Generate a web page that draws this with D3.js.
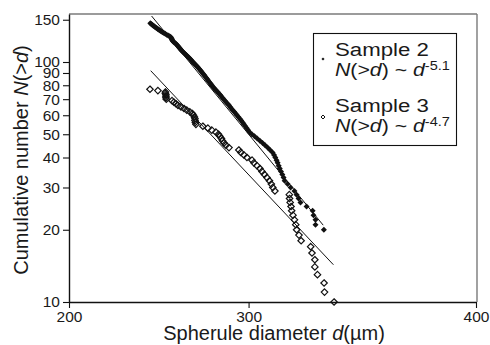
<!DOCTYPE html>
<html>
<head>
<meta charset="utf-8">
<script src="https://cdn.jsdelivr.net/npm/d3@7"></script>
<style>
    body { margin: 0; background: #fff; }
    svg { display: block; font-family: "Liberation Sans", Arial, sans-serif; }
</style>
</head>
<body>
<div id="chart"></div>
<script>
// axis ticks
const xTicks = [200, 300, 400]
const yTicks = [10, 20, 30, 40, 50, 60, 70, 80, 90, 100, 150]

// Sample 2 : cumulative number N(>d) against spherule diameter d (µm)
const s2Count = [145, 144, 143, 142, 141, 140, 139, 138, 137, 136, 135, 134, 133, 132, 131, 130, 129, 128, 127, 126,
    125, 124, 123, 122, 121, 120, 119, 118, 117, 116, 115, 114, 113, 112, 111, 110, 109, 108, 107, 106,
    105, 104, 103, 102, 101, 100, 99, 98, 97, 96, 95, 94, 93, 92, 91, 90, 89, 88, 87, 86,
    85, 84, 83, 82, 81, 80, 79, 78, 77, 76, 75, 74, 73, 72, 71, 70, 69, 68, 67, 66,
    65, 64, 63, 62, 61, 60, 59, 58, 57, 56, 55, 54, 53, 52, 51, 50, 49, 48, 47, 46,
    45, 44, 43, 42, 41, 40, 39, 38, 37, 36, 35, 34, 33, 32, 31, 30, 29, 28, 27, 26,
    25, 24, 23, 22, 21, 20]
const s2Diam = [248.8, 249.3, 249.8, 250.3, 250.9, 251.4, 252.0, 252.6, 253.1, 253.7, 254.3, 254.9, 255.6, 256.3, 257.0, 257.8, 258.6, 259.4, 260.0, 260.3,
    260.5, 260.7, 260.9, 261.2, 261.7, 262.3, 262.8, 263.3, 263.7, 264.1, 264.5, 264.9, 265.3, 265.7, 266.1, 266.6, 267.2, 267.7, 268.3, 268.8,
    269.4, 269.9, 270.4, 270.9, 271.3, 271.8, 272.3, 272.8, 273.4, 273.9, 274.4, 274.9, 275.4, 275.9, 276.3, 276.8, 277.3, 277.8, 278.2, 278.7,
    279.2, 279.7, 280.1, 280.6, 281.1, 281.6, 282.1, 282.7, 283.3, 283.9, 284.6, 285.2, 285.8, 286.4, 287.0, 287.6, 288.3, 288.9, 289.6, 290.3,
    290.9, 291.5, 292.2, 292.9, 293.6, 294.3, 295.0, 295.7, 296.4, 297.1, 297.7, 298.4, 299.1, 299.8, 300.5, 301.6, 302.9, 304.2, 305.5, 306.8,
    308.0, 309.2, 310.4, 311.6, 312.3, 312.9, 313.5, 314.0, 314.5, 315.0, 315.6, 316.2, 316.8, 317.3, 318.7, 320.1, 321.9, 322.9, 323.8, 324.7,
    327.5, 330.3, 330.7, 331.6, 331.6, 335.4]

// Sample 3
const s3Count = [77, 76, 75, 74, 73, 72, 71, 70, 69, 68, 67, 66, 65, 64, 63, 62, 61, 60, 59, 58,
    57, 56, 55, 54, 53, 52, 51, 50, 49, 48, 47, 46, 45, 44, 43, 42, 41, 40, 39, 38,
    37, 36, 35, 34, 33, 32, 31, 30, 29, 28, 27, 26, 25, 24, 23, 22, 21, 20, 19, 18,
    17, 16, 15, 14, 13, 12, 11, 10]
const s3Diam = [248.6, 253.0, 257.1, 257.1, 257.4, 257.4, 257.4, 257.6, 260.7, 261.7, 262.8, 263.9, 265.5, 267.1, 268.6, 270.2, 271.5, 272.1, 272.6, 272.9,
    272.9, 273.1, 273.4, 277.0, 279.6, 281.6, 283.7, 285.0, 285.7, 286.5, 287.0, 287.8, 288.8, 290.3, 295.2, 296.2, 297.7, 299.2, 301.7, 302.6,
    304.1, 305.5, 306.5, 307.7, 308.9, 310.1, 311.0, 311.7, 312.7, 319.5, 319.6, 319.9, 320.3, 320.6, 321.2, 321.9, 322.5, 322.9, 324.0, 325.0,
    329.4, 330.0, 331.3, 331.3, 332.5, 335.5, 335.7, 340.0]

// power-law fits, end points [d, N]
const fit2 = [[249.5, 155.5], [335.1, 20.9]]
const fit3 = [[249.0, 92.0], [339.7, 14.3]]

const width = 490, height = 345
const plotLeft = 69, plotRight = 476, plotTop = 14, plotBottom = 302

const svg = d3.select("#chart").append("svg")
    .attr("width", width)
    .attr("height", height)

const x = d3.scalePow().exponent(1.7).domain([200, 400]).range([plotLeft, plotRight])
const y = d3.scaleLog().domain([10, 10 ** 2.2]).range([plotBottom, plotTop])

const diamond = {
    draw(ctx, size) {
        const r = Math.sqrt(size) / 2
        ctx.moveTo(0, -r)
        ctx.lineTo(r, 0)
        ctx.lineTo(0, r)
        ctx.lineTo(-r, 0)
        ctx.closePath()
    }
}

// frame: top and right are grey
svg.append("line").attr("x1", plotLeft).attr("x2", plotRight + 1).attr("y1", plotTop).attr("y2", plotTop)
    .attr("stroke", "#7a7a7a").attr("stroke-width", 1.6)
svg.append("line").attr("x1", plotRight + 1).attr("x2", plotRight + 1).attr("y1", plotTop).attr("y2", plotBottom)
    .attr("stroke", "#7a7a7a").attr("stroke-width", 1.4)

const xAxis = svg.append("g")
    .attr("transform", `translate(0,${plotBottom})`)
    .call(d3.axisBottom(x).tickValues(xTicks).tickSize(6).tickSizeOuter(0).tickPadding(3).tickFormat(d3.format("d")))
const yAxis = svg.append("g")
    .attr("transform", `translate(${plotLeft},0)`)
    .call(d3.axisLeft(y).tickValues(yTicks).tickSize(6).tickSizeOuter(0).tickPadding(3).tickFormat(d3.format("d")))

for (const ax of [xAxis, yAxis]) {
    ax.select(".domain").attr("stroke", "#111").attr("stroke-width", 1.4)
    ax.selectAll(".tick line").attr("stroke", "#111").attr("stroke-width", 1.1)
    ax.selectAll(".tick text").attr("fill", "#1a1a1a")
        .style("font-family", '"Liberation Sans", Arial, sans-serif').style("font-size", "15.5px")
}

// fit lines
const line = d3.line().x(d => x(d[0])).y(d => y(d[1]))
svg.append("path").datum(fit2).attr("d", line).attr("stroke", "#111").attr("stroke-width", 1).attr("fill", "none")
svg.append("path").datum(fit3).attr("d", line).attr("stroke", "#111").attr("stroke-width", 1).attr("fill", "none")

// sample 3 hollow diamonds
svg.append("g").selectAll("path")
    .data(s3Diam.map((d, i) => [d, s3Count[i]]))
    .join("path")
    .attr("transform", d => `translate(${x(d[0])},${y(d[1])})`)
    .attr("d", d3.symbol(diamond, 42))
    .attr("fill", "none")
    .attr("stroke", "#111")
    .attr("stroke-width", 1.2)

// sample 2 filled diamonds
svg.append("g").selectAll("path")
    .data(s2Diam.map((d, i) => [d, s2Count[i]]))
    .join("path")
    .attr("transform", d => `translate(${x(d[0])},${y(d[1])})`)
    .attr("d", d3.symbol(diamond, 36))
    .attr("fill", "#111")

// axis titles
const yTitle = svg.append("text")
    .attr("transform", "translate(28,160) rotate(-90)")
    .attr("text-anchor", "middle")
    .attr("font-size", 20)
    .attr("fill", "#1a1a1a")
yTitle.append("tspan").text("Cumulative number ")
yTitle.append("tspan").attr("font-style", "italic").text("N")
yTitle.append("tspan").text("(>")
yTitle.append("tspan").attr("font-style", "italic").text("d")
yTitle.append("tspan").text(")")

const xTitle = svg.append("text")
    .attr("x", 274).attr("y", 340)
    .attr("text-anchor", "middle")
    .attr("font-size", 20)
    .attr("fill", "#1a1a1a")
xTitle.append("tspan").text("Spherule diameter ")
xTitle.append("tspan").attr("font-style", "italic").text("d")
xTitle.append("tspan").text("(\u00b5m)")

// legend
const legend = svg.append("g")
legend.append("rect")
    .attr("x", 313.5).attr("y", 33.5).attr("width", 143).attr("height", 112)
    .attr("fill", "#fff").attr("stroke", "#111").attr("stroke-width", 1.1)

legend.append("path").attr("transform", "translate(323,59)").attr("d", d3.symbol(diamond, 10)).attr("fill", "#111")
legend.append("path").attr("transform", "translate(323,117)").attr("d", d3.symbol(diamond, 16))
    .attr("fill", "none").attr("stroke", "#111").attr("stroke-width", 1)

function legendEntry(name, expo, y0) {
    const g1 = legend.append("g").attr("transform", `translate(335,${y0}) scale(1.17,1)`)
    g1.append("text").attr("font-size", 19).attr("fill", "#1a1a1a").text(name)
    const g2 = legend.append("g").attr("transform", `translate(335,${y0 + 20}) scale(1.12,1)`)
    const t = g2.append("text").attr("font-size", 19).attr("fill", "#1a1a1a")
    t.append("tspan").attr("font-style", "italic").text("N")
    t.append("tspan").text("(>")
    t.append("tspan").attr("font-style", "italic").text("d")
    t.append("tspan").text(") ~ ")
    t.append("tspan").attr("font-style", "italic").text("d")
    t.append("tspan").attr("font-size", 13).attr("dy", -6).text(expo)
}
legendEntry("Sample 2", "-5.1", 56)
legendEntry("Sample 3", "-4.7", 112)
</script>
</body>
</html>
